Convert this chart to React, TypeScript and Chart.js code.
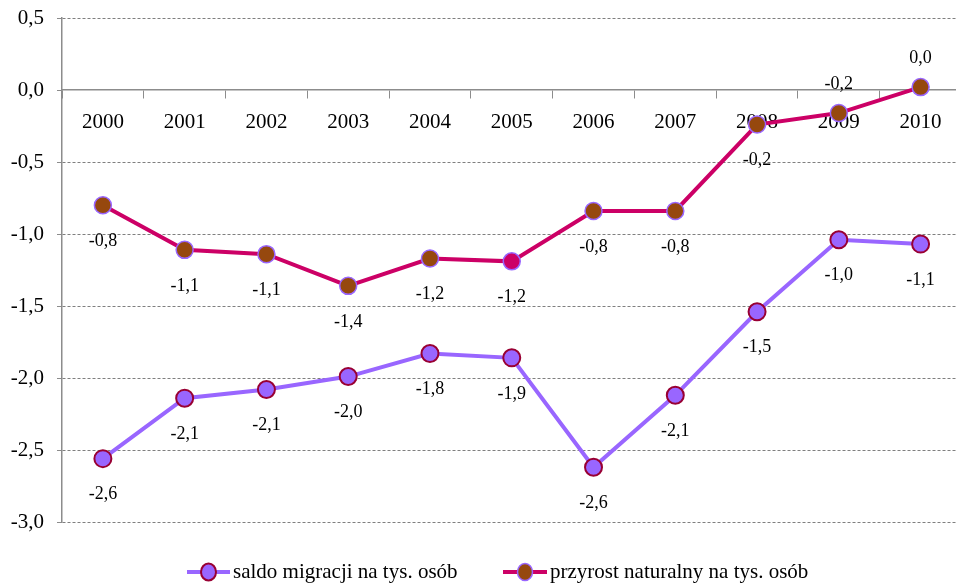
import React, { useEffect, useRef } from "react";
import { Chart, registerables } from "chart.js";

Chart.register(...registerables);

const years = ["2000", "2001", "2002", "2003", "2004", "2005", "2006", "2007", "2008", "2009", "2010"];
const saldoMigracji = [-2.56, -2.14, -2.08, -1.99, -1.83, -1.86, -2.62, -2.12, -1.54, -1.04, -1.07];
const przyrostNaturalny = [-0.8, -1.11, -1.14, -1.36, -1.17, -1.19, -0.84, -0.84, -0.24, -0.16, 0.02];
const yTicks = [0.5, 0.0, -0.5, -1.0, -1.5, -2.0, -2.5, -3.0];
const seriesNames = ["saldo migracji na tys. osób", "przyrost naturalny na tys. osób"];

const SERIF = "'Liberation Serif', 'Times New Roman', serif";
const fmt = (v: number) => v.toFixed(1).replace(".", ",").replace("-0,0", "0,0");

// which labels sit above the point (dataset index -> point indices)
const labelsAbove: Record<number, number[]> = { 1: [9, 10] };

const dataLabelPlugin = {
  id: "dataLabels",
  afterDatasetsDraw(chart: any) {
    const ctx = chart.ctx;
    ctx.save();
    ctx.font = `18px ${SERIF}`;
    ctx.fillStyle = "#000";
    ctx.textAlign = "center";
    ctx.textBaseline = "middle";
    chart.data.datasets.forEach((ds: any, di: number) => {
      const meta = chart.getDatasetMeta(di);
      meta.data.forEach((pt: any, i: number) => {
        const above = (labelsAbove[di] || []).includes(i);
        const y = above ? pt.y - 29 : pt.y + 36;
        ctx.fillText(fmt(ds.data[i]), pt.x, y);
      });
    });
    ctx.restore();
  },
};

const legendPlugin = {
  id: "customLegend",
  afterDraw(chart: any) {
    const ctx = chart.ctx;
    const y = 572;
    const items = [
      { x1: 187, x2: 230, text: seriesNames[0], line: "#9966FF", fill: "#9966FF", border: "#990033", bw: 2 },
      { x1: 503, x2: 547, text: seriesNames[1], line: "#CC0066", fill: "#96480E", border: "#9966FF", bw: 1.5 },
    ];
    ctx.save();
    items.forEach((it) => {
      ctx.strokeStyle = it.line;
      ctx.lineWidth = 4;
      ctx.beginPath();
      ctx.moveTo(it.x1, y);
      ctx.lineTo(it.x2, y);
      ctx.stroke();
      ctx.beginPath();
      ctx.ellipse((it.x1 + it.x2) / 2, y, 7.5, 8.5, 0, 0, Math.PI * 2);
      ctx.fillStyle = it.fill;
      ctx.fill();
      ctx.lineWidth = it.bw;
      ctx.strokeStyle = it.border;
      ctx.stroke();
      ctx.fillStyle = "#000";
      ctx.font = `21px ${SERIF}`;
      ctx.textAlign = "left";
      ctx.textBaseline = "middle";
      ctx.fillText(it.text, it.x2 + 3, y);
    });
    ctx.restore();
  },
};

export default function App() {
  const ref = useRef<HTMLCanvasElement | null>(null);
  useEffect(() => {
    if (!ref.current) return;
    const chart = new Chart(ref.current, {
      type: "line",
      data: {
        labels: years,
        datasets: [
          {
            label: seriesNames[0],
            data: saldoMigracji,
            borderColor: "#9966FF",
            borderWidth: 4,
            backgroundColor: "#9966FF",
            pointBackgroundColor: "#9966FF",
            pointBorderColor: "#990033",
            pointBorderWidth: 2,
            pointRadius: 8.5,
            tension: 0,
          },
          {
            label: seriesNames[1],
            data: przyrostNaturalny,
            borderColor: "#CC0066",
            borderWidth: 4,
            backgroundColor: "#96480E",
            pointBackgroundColor: (c: any) => (c.dataIndex === 5 ? "#CC0066" : "#96480E"),
            pointBorderColor: "#9966FF",
            pointBorderWidth: 1.5,
            pointRadius: 8.5,
            tension: 0,
          },
        ],
      },
      options: {
        animation: false,
        responsive: false,
        layout: { padding: { top: 18, bottom: 63, left: 0, right: 2 } },
        plugins: { legend: { display: false }, tooltip: { enabled: false } },
        scales: {
          x: {
            type: "category",
            position: { y: 0 } as any,
            offset: true,
            grid: { offset: true, drawOnChartArea: false, drawTicks: true, tickLength: 8, color: "#8c8c8c" },
            border: { color: "#8c8c8c", width: 1.5 },
            ticks: { color: "#000", font: { family: SERIF, size: 21 }, padding: 12, maxRotation: 0, autoSkip: false },
          },
          y: {
            min: -3,
            max: 0.5,
            afterFit: (s: any) => {
              s.width = 62;
              s.paddingTop = 10;
              s.paddingBottom = 10;
            },
            afterBuildTicks: (s: any) => { s.ticks = yTicks.map((v) => ({ value: v })); },
            grid: {
              color: (c: any) => (c.tick && c.tick.value === 0 ? "rgba(0,0,0,0)" : "#7f7f7f"),
              tickColor: "#8c8c8c",
              tickLength: 5,
              lineWidth: 1,
            },
            border: { color: "#8c8c8c", width: 1.5, dash: [3, 2] as any },
            ticks: {
              color: "#000",
              font: { family: SERIF, size: 21 },
              padding: 13,
              callback: (v: any) => fmt(Number(v)),
            },
          },
        },
      },
      plugins: [dataLabelPlugin, legendPlugin],
    });
    return () => chart.destroy();
  }, []);
  return (
    <div style={{ position: "fixed", left: 0, top: 0, width: 956, height: 585, overflow: "hidden", background: "#fff" }}>
      <canvas ref={ref} width={972} height={585} style={{ display: "block" }} />
    </div>
  );
}
